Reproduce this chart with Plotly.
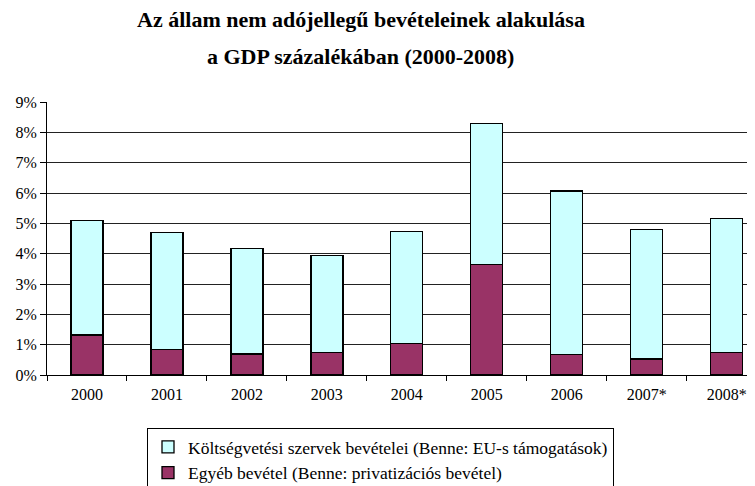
import plotly.graph_objects as go

categories = ["2000", "2001", "2002", "2003", "2004", "2005", "2006", "2007*", "2008*"]
egyeb = [1.32, 0.85, 0.69, 0.74, 1.04, 3.64, 0.68, 0.53, 0.74]
koltseg = [3.78, 3.84, 3.47, 3.21, 3.70, 4.64, 5.39, 4.27, 4.43]
y_ticks = [0, 1, 2, 3, 4, 5, 6, 7, 8, 9]
y_labels = [f"{v}%" for v in y_ticks]

name_k = "Költségvetési szervek bevételei (Benne: EU-s támogatások)"
name_e = "Egyéb bevétel (Benne: privatizációs bevétel)"
title_1 = "Az állam nem adójellegű bevételeinek alakulása"
title_2 = "a GDP százalékában (2000-2008)"

font = "Liberation Serif"
FIG_W, FIG_H = 747, 500

fig = go.Figure()
fig.add_trace(go.Bar(x=categories, y=egyeb, name=name_e, width=0.4,
                     marker=dict(color="#993366", line=dict(color="#000000", width=1.3))))
fig.add_trace(go.Bar(x=categories, y=koltseg, name=name_k, width=0.4,
                     marker=dict(color="#CCFFFF", line=dict(color="#000000", width=1.3))))

# page has an 8px body margin; figure is 747 wide
fig.update_layout(
    barmode="stack",
    width=FIG_W, height=FIG_H,
    margin=dict(l=39, r=0, t=94, b=133, autoexpand=False),
    paper_bgcolor="white", plot_bgcolor="white",
    font=dict(family=font, size=16, color="black"),
    showlegend=True,
    legend=dict(traceorder="reversed", xref="container", yref="container",
                x=139 / FIG_W, xanchor="left", y=1 - 420 / FIG_H, yanchor="top",
                bordercolor="black", borderwidth=1, bgcolor="white",
                font=dict(family=font, size=17.5), itemwidth=30, tracegroupgap=0),
    xaxis=dict(type="category", range=[-0.5, 8.354], showline=True, linecolor="black", linewidth=1,
               ticks="outside", tickson="boundaries", ticklen=5, tickcolor="black",
               tickfont=dict(family=font, size=16), showgrid=False, automargin=False,
               ticklabelstandoff=5),
    yaxis=dict(range=[0, 9], tickvals=y_ticks, ticktext=y_labels, showline=True, linecolor="black",
               linewidth=1, ticks="outside", ticklen=6, tickcolor="black",
               showgrid=True, gridcolor="#222222", gridwidth=1, zeroline=False,
               tickfont=dict(family=font, size=16), automargin=False),
    annotations=[
        dict(text=f"<b>{title_1}</b>", xref="paper", yref="paper",
             x=0.4435, y=(367 - 12) / 273, xanchor="center", yanchor="middle",
             showarrow=False, font=dict(family=font, size=22, color="black")),
        dict(text=f"<b>{title_2}</b>", xref="paper", yref="paper",
             x=0.4435, y=(367 - 49) / 273, xanchor="center", yanchor="middle",
             showarrow=False, font=dict(family=font, size=22, color="black")),
    ],
)

fig.write_html("out.html")
